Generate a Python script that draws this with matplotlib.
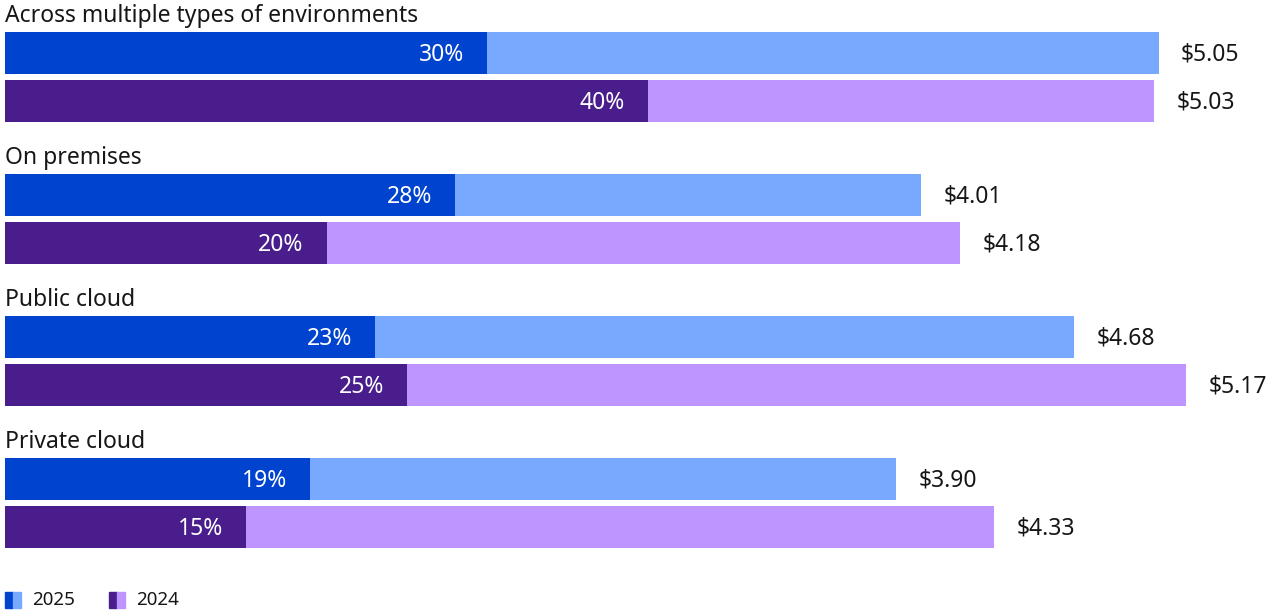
import matplotlib.pyplot as plt
from matplotlib.patches import Rectangle
import numpy as np

# average cost (USD millions) and share of breaches, by where the data was stored
categories = ['Across multiple types of environments', 'On premises', 'Public cloud', 'Private cloud']
cost_2025 = [5.05, 4.01, 4.68, 3.90]
cost_2024 = [5.03, 4.18, 5.17, 4.33]
share_2025 = [30, 28, 23, 19]
share_2024 = [40, 20, 25, 15]
years = ['2025', '2024']

dark = {'2025': '#0043ce', '2024': '#491d8b'}
light = {'2025': '#78a9ff', '2024': '#be95ff'}
txt = '#161616'

plt.rcParams['font.family'] = ['Noto Sans', 'DejaVu Sans']

W, H = 1271, 612
fig = plt.figure(figsize=(W / 100, H / 100), dpi=100)
ax = fig.add_axes([5 / W, 0, 1 - 5 / W, 1])
ax.set_xlim(0, 5.54)
ax.set_ylim((H - 77) / 142, -77 / 142)
ax.axis('off')

# share bars use their own horizontal scale
axp = ax.twiny()
axp.set_xlim(0, 78.75)
axp.set_ylim(ax.get_ylim())
axp.axis('off')

idx = np.arange(len(categories))
off = 0.169
bh = 0.296
fs = 16.5

for yr, costs, shares, sign in [('2025', cost_2025, share_2025, -1), ('2024', cost_2024, share_2024, 1)]:
    y = idx + sign * off
    ax.barh(y, costs, height=bh, color=light[yr], zorder=1)
    axp.barh(y, shares, height=bh, color=dark[yr], zorder=2)
    for yi, c, s in zip(y, costs, shares):
        ax.annotate(f'${c:.2f}', (c, yi), xytext=(15.8, -1.2), textcoords='offset points',
                    ha='left', va='center', fontsize=fs, color=txt)
        axp.annotate(f'{s}%', (s, yi), xytext=(-16.5, -1.2), textcoords='offset points',
                     ha='right', va='center', fontsize=fs, color='white', zorder=3)

for i, cat in enumerate(categories):
    ax.text(0, i - 0.432, cat, ha='left', va='center', fontsize=fs, color=txt)

# legend: split swatch of dark + light for each year
x0 = 5
for yr in years:
    fig.add_artist(Rectangle((x0 / W, 1 - 608 / H), 8 / W, 16 / H, color=dark[yr], transform=fig.transFigure))
    fig.add_artist(Rectangle(((x0 + 8) / W, 1 - 608 / H), 8 / W, 16 / H, color=light[yr], transform=fig.transFigure))
    fig.text((x0 + 27) / W, 1 - 600 / H, yr, ha='left', va='center', fontsize=13.5, color=txt)
    x0 += 104

fig.savefig('out.png', dpi=100, facecolor='white')
